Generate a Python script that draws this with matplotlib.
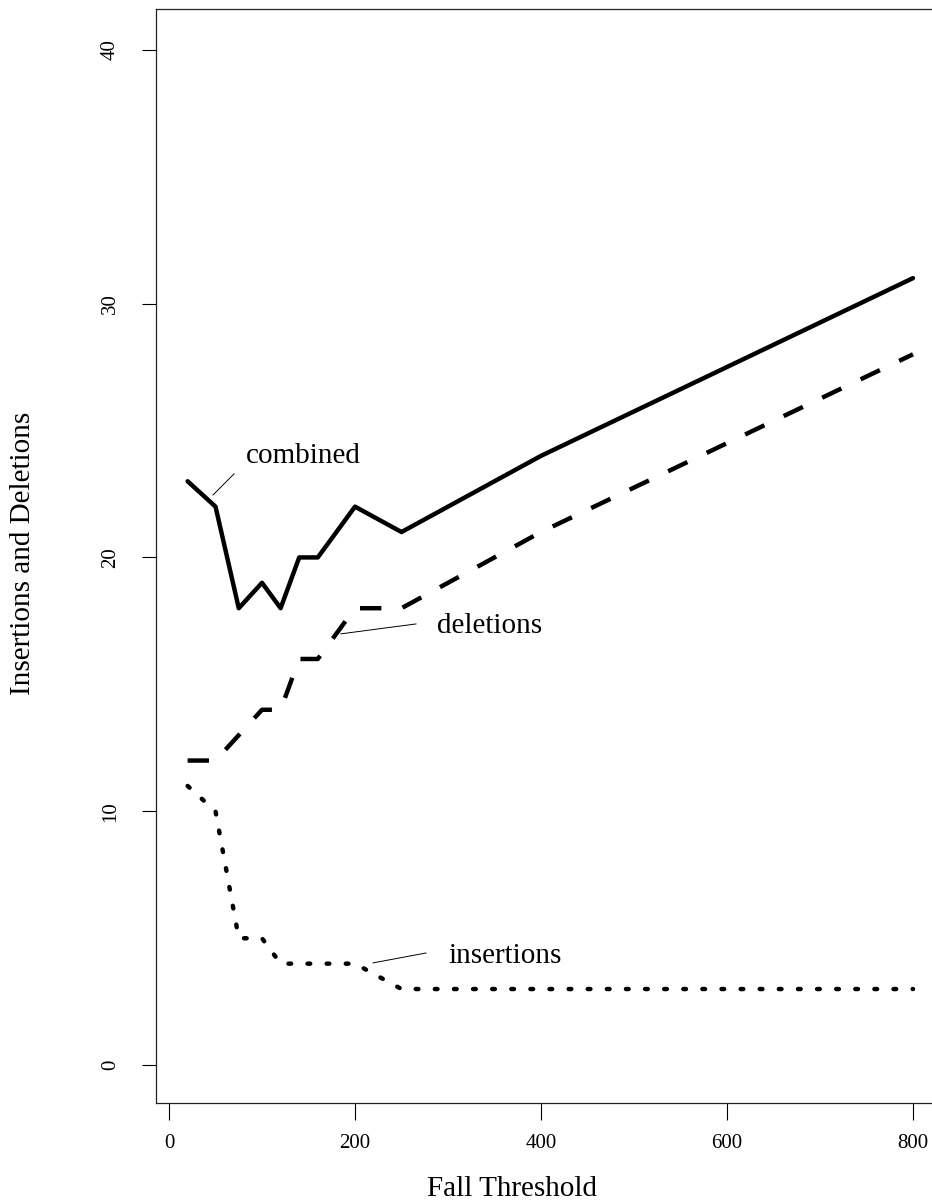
import matplotlib
matplotlib.use("Agg")
import matplotlib.pyplot as plt

# Data
threshold = [20, 50, 75, 100, 120, 140, 160, 200, 250, 400, 800]
combined = [23, 22, 18, 19, 18, 20, 20, 22, 21, 24, 31]
deletions = [12, 12, 13, 14, 14, 16, 16, 18, 18, 21, 28]
insertions = [11, 10, 5, 5, 4, 4, 4, 4, 3, 3, 3]

x_ticks = [0, 200, 400, 600, 800]
y_ticks = [0, 10, 20, 30, 40]

# annotation label positions (data coords) and pointer segments
labels = ["combined", "deletions", "insertions"]
label_xy = [(82.5, 23.72), (288.2, 17.03), (300.0, 4.03)]
pointer_from = [(47.3, 22.46), (184.9, 16.99), (219.4, 4.03)]
pointer_to = [(69.9, 23.29), (265.6, 17.38), (276.3, 4.42)]

plt.rcParams['font.family'] = ['Liberation Serif', 'DejaVu Serif']

W, H = 932, 1203
fig = plt.figure(figsize=(W / 100, H / 100), dpi=100)
left_px, right_px, top_px, bottom_px = 156, 942, 9, 1103.3
ax = fig.add_axes([left_px / W, 1 - bottom_px / H,
                   (right_px - left_px) / W, (bottom_px - top_px) / H])

lw = 3.2
ax.plot(threshold, combined, color='black', lw=lw, solid_joinstyle='round',
        solid_capstyle='round')
ax.plot(threshold, deletions, color='black', lw=lw, dashes=(4.8, 4.8),
        dash_capstyle='butt', dash_joinstyle='round')
ax.plot(threshold, insertions, color='black', lw=lw, dashes=(0.6, 3.7),
        dash_capstyle='round', dash_joinstyle='round')

for lab, (tx, ty), (x0, y0), (x1, y1) in zip(labels, label_xy, pointer_from, pointer_to):
    ax.plot([x0, x1], [y0, y1], color='black', lw=0.7)
    ax.text(tx, ty, lab, fontsize=21, ha='left', va='baseline')

ax.set_xlim(-14, 831.2)
ax.set_ylim(-1.5, 41.6)
ax.set_xticks(x_ticks)
ax.set_yticks(y_ticks)
ax.set_xticklabels([str(v) for v in x_ticks], fontsize=15)
ax.set_yticklabels([str(v) for v in y_ticks], fontsize=15, rotation=90,
                   va='center')
ax.tick_params(axis='x', length=12.2, width=0.8, pad=10, direction='out')
ax.tick_params(axis='y', length=10, width=0.8, pad=16, direction='out')

for s in ax.spines.values():
    s.set_linewidth(0.9)
    s.set_color('#222222')
ax.spines['right'].set_visible(False)

ax.set_xlabel("Fall Threshold", fontsize=21)
ax.set_ylabel("Insertions and Deletions", fontsize=21)
ax.xaxis.set_label_coords((512 - left_px) / (right_px - left_px),
                          -(1196 - bottom_px) / (bottom_px - top_px))
ax.xaxis.label.set_va('baseline')
ax.yaxis.set_label_coords(-(left_px - 23) / (right_px - left_px),
                          (bottom_px - 553.5) / (bottom_px - top_px))
ax.yaxis.label.set_va('center')

fig.savefig("out.png", dpi=100)
